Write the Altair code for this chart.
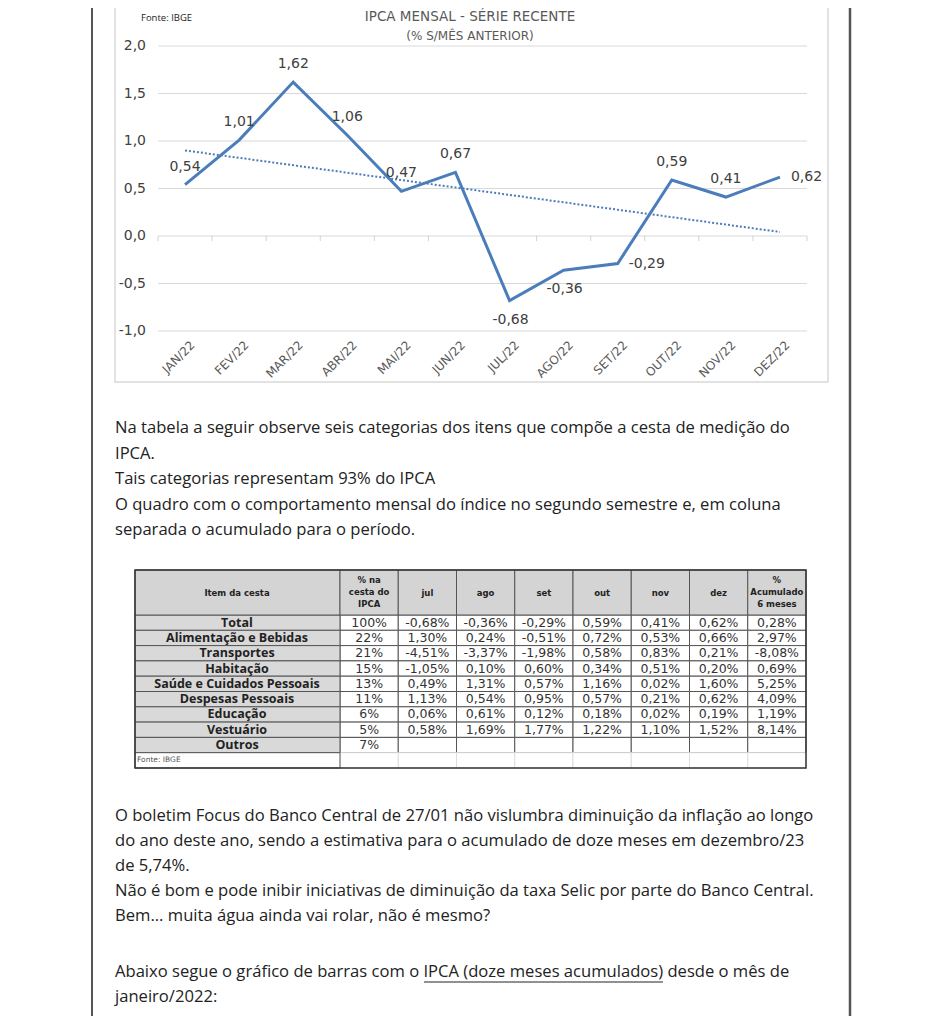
import altair as alt
import pandas as pd

# ---------------- data ----------------
meses = ["JAN/22", "FEV/22", "MAR/22", "ABR/22", "MAI/22", "JUN/22",
         "JUL/22", "AGO/22", "SET/22", "OUT/22", "NOV/22", "DEZ/22"]
ipca_mensal = [0.54, 1.01, 1.62, 1.06, 0.47, 0.67, -0.68, -0.36, -0.29, 0.59, 0.41, 0.62]
y_ticks = [-1.0, -0.5, 0.0, 0.5, 1.0, 1.5, 2.0]

itens = ["Total", "Alimentação e Bebidas", "Transportes", "Habitação",
         "Saúde e Cuidados Pessoais", "Despesas Pessoais", "Educação", "Vestuário", "Outros"]
peso_cesta = [100, 22, 21, 15, 13, 11, 6, 5, 7]
meses_tab = ["jul", "ago", "set", "out", "nov", "dez"]
var_jul = [-0.68, 1.30, -4.51, -1.05, 0.49, 1.13, 0.06, 0.58]
var_ago = [-0.36, 0.24, -3.37, 0.10, 1.31, 0.54, 0.61, 1.69]
var_set = [-0.29, -0.51, -1.98, 0.60, 0.57, 0.95, 0.12, 1.77]
var_out = [0.59, 0.72, 0.58, 0.34, 1.16, 0.57, 0.18, 1.22]
var_nov = [0.41, 0.53, 0.83, 0.51, 0.02, 0.21, 0.02, 1.10]
var_dez = [0.62, 0.66, 0.21, 0.20, 1.60, 0.62, 0.19, 1.52]
acum_6m = [0.28, 2.97, -8.08, 0.69, 5.25, 4.09, 1.19, 8.14]

cab_tabela = ["% na\ncesta do\nIPCA", "jul", "ago", "set", "out", "nov", "dez", "%\nAcumulado\n6 meses"]

texto_1 = ("Na tabela a seguir observe seis categorias dos itens que compõe a cesta de medição do\n"
           "IPCA.\n"
           "Tais categorias representam 93% do IPCA\n"
           "O quadro com o comportamento mensal do índice no segundo semestre e, em coluna\n"
           "separada o acumulado para o período.")
texto_2 = ("O boletim Focus do Banco Central de 27/01 não vislumbra diminuição da inflação ao longo\n"
           "do ano deste ano, sendo a estimativa para o acumulado de doze meses em dezembro/23\n"
           "de 5,74%.\n"
           "Não é bom e pode inibir iniciativas de diminuição da taxa Selic por parte do Banco Central.\n"
           "Bem... muita água ainda vai rolar, não é mesmo?")
texto_3 = ("Abaixo segue o gráfico de barras com o IPCA (doze meses acumulados) desde o mês de\n"
           "janeiro/2022:")


def br(v, d=2):
    return f"{v:.{d}f}".replace(".", ",")


BLUE = "#4a7dba"
GRAY_TXT = "#404040"
BODY = "#222222"
FONT = "DejaVu Sans"

# ---------------- line chart ----------------
df = pd.DataFrame({"i": list(range(len(meses))), "mes": meses, "v": ipca_mensal,
                   "rot": [br(v) for v in ipca_mensal]})
df_ticks = pd.DataFrame({"t": y_ticks, "lab": [br(t, 1) for t in y_ticks]})
df_bound = pd.DataFrame({"b": [k - 0.5 for k in range(len(meses) + 1)], "z": 0.0})

XS = alt.Scale(domain=[-0.5, len(meses) - 0.5], range=[158, 807], nice=False, zero=False)
YS = alt.Scale(domain=[-1, 2], range=[331, 46], nice=False, zero=False)

one = pd.DataFrame({"t": [""]})

box = alt.Chart(one).mark_rect(fill="white", stroke="#d9d9d9", strokeWidth=1.5).encode(
    x=alt.value(115), x2=alt.value(828), y=alt.value(-4), y2=alt.value(382))

grid = alt.Chart(df_ticks).mark_rule(color="#d9d9d9", strokeWidth=1).encode(
    y=alt.Y("t:Q", scale=YS, axis=None), x=alt.value(158), x2=alt.value(807))

ticks = alt.Chart(df_bound).mark_tick(orient="vertical", size=5, thickness=1,
                                      color="#bfbfbf", yOffset=2.5).encode(
    x=alt.X("b:Q", scale=XS, axis=None), y=alt.Y("z:Q", scale=YS, axis=None))

ylabs = alt.Chart(df_ticks).mark_text(align="right", baseline="middle", font=FONT,
                                      fontSize=14, color=GRAY_TXT).encode(
    y=alt.Y("t:Q", scale=YS, axis=None), x=alt.value(146), text="lab:N")

xlabs = alt.Chart(df).transform_calculate(ix="datum.i + 0.14").mark_text(
    angle=315, align="right", baseline="middle", font=FONT, fontSize=12, color="#595959").encode(
    x=alt.X("ix:Q", scale=XS, axis=None), y=alt.value(343), text="mes:N")

trend = alt.Chart(df).transform_regression("i", "v").mark_line(
    color=BLUE, strokeWidth=2, strokeDash=[2, 2]).encode(
    x=alt.X("i:Q", scale=XS, axis=None), y=alt.Y("v:Q", scale=YS, axis=None))

line = alt.Chart(df).mark_line(color=BLUE, strokeWidth=3).encode(
    x=alt.X("i:Q", scale=XS, axis=None), y=alt.Y("v:Q", scale=YS, axis=None))

below = ["JUL/22", "AGO/22"]
right = ["SET/22", "DEZ/22"]
lab_common = dict(font=FONT, fontSize=14, color=GRAY_TXT, baseline="middle")
enc = dict(x=alt.X("i:Q", scale=XS, axis=None), y=alt.Y("v:Q", scale=YS, axis=None), text="rot:N")

lab_above = alt.Chart(df).transform_filter(
    f"indexof({below + right}, datum.mes) < 0").mark_text(align="center", dy=-18, **lab_common).encode(**enc)
lab_below = alt.Chart(df).transform_filter(
    f"indexof({below}, datum.mes) >= 0").mark_text(align="center", dy=19, dx=1, **lab_common).encode(**enc)
lab_right = alt.Chart(df).transform_filter(
    f"indexof({right}, datum.mes) >= 0").mark_text(align="left", dx=11, **lab_common).encode(**enc)

title = alt.Chart(pd.DataFrame({"t": ["IPCA MENSAL - SÉRIE RECENTE"]})).mark_text(
    font=FONT, fontSize=13.5, color="#595959", align="center", baseline="middle").encode(
    x=alt.value(470), y=alt.value(17), text="t:N")
subtitle = alt.Chart(pd.DataFrame({"t": ["(% S/MÊS ANTERIOR)"]})).mark_text(
    font=FONT, fontSize=12, color="#595959", align="center", baseline="middle").encode(
    x=alt.value(470), y=alt.value(36), text="t:N")
fonte = alt.Chart(pd.DataFrame({"t": ["Fonte: IBGE"]})).mark_text(
    font="Open Sans", fontSize=9.5, color="#222", align="left", baseline="middle").encode(
    x=alt.value(141), y=alt.value(18), text="t:N")

chart_part = alt.layer(box, grid, ticks, ylabs, xlabs, trend, line,
                       lab_above, lab_below, lab_right, title, subtitle, fonte)

# ---------------- table ----------------
col_keys = ["pct"] + meses_tab + ["acum"]
row_keys = itens + ["Fonte"]
series = [var_jul, var_ago, var_set, var_out, var_nov, var_dez]
recs = []
for r_i, r in enumerate(row_keys):
    for c_i, c in enumerate(col_keys):
        txt = ""
        if r != "Fonte":
            if c == "pct":
                txt = f"{peso_cesta[r_i]}%"
            elif r_i < len(acum_6m):
                if c == "acum":
                    txt = br(acum_6m[r_i]) + "%"
                else:
                    txt = br(series[c_i - 1][r_i]) + "%"
        recs.append({"row": r, "col": c, "txt": txt, "fonte": r == "Fonte"})
df_cells = pd.DataFrame(recs)
df_items = pd.DataFrame({"row": row_keys, "nome": itens + [""], "fonte": [False] * len(itens) + [True]})
df_head = pd.DataFrame({"col": col_keys, "h": cab_tabela,
                        "multi": ["\n" in h for h in cab_tabela]})

XT = alt.Scale(domain=col_keys, range=[340, 806], paddingInner=0, paddingOuter=0)
YT = alt.Scale(domain=row_keys, range=[615, 768], paddingInner=0, paddingOuter=0)

cells = alt.Chart(df_cells).mark_rect(fill="white", strokeWidth=1).encode(
    x=alt.X("col:N", scale=XT, axis=None), y=alt.Y("row:N", scale=YT, axis=None),
    stroke=alt.condition("datum.fonte", alt.value("#dddddd"), alt.value("#555555")))
cell_txt = alt.Chart(df_cells).mark_text(font=FONT, fontSize=12.5, color="#333",
                                         baseline="middle", align="center").encode(
    x=alt.X("col:N", scale=XT, axis=None), y=alt.Y("row:N", scale=YT, axis=None), text="txt:N")

item_rect = alt.Chart(df_items).mark_rect(stroke="#555555", strokeWidth=1).encode(
    x=alt.value(135), x2=alt.value(340), y=alt.Y("row:N", scale=YT, axis=None),
    fill=alt.condition("datum.fonte", alt.value("white"), alt.value("#d9d9d9")))
item_txt = alt.Chart(df_items).mark_text(font="Open Sans", fontWeight="bold", fontSize=12.5,
                                         color="#222", baseline="middle", align="center").encode(
    x=alt.value(237), y=alt.Y("row:N", scale=YT, axis=None), text="nome:N")
fonte_tab = alt.Chart(pd.DataFrame({"t": ["Fonte: IBGE"]})).mark_text(
    font=FONT, fontSize=7.5, color="#555", align="left", baseline="middle").encode(
    x=alt.value(137), y=alt.value(760), text="t:N")

head_first = alt.Chart(one).mark_rect(fill="#d4d4d4", stroke="#555555", strokeWidth=1).encode(
    x=alt.value(135), x2=alt.value(340), y=alt.value(570), y2=alt.value(615))
head_first_txt = alt.Chart(pd.DataFrame({"t": ["Item da cesta"]})).mark_text(
    font=FONT, fontWeight="bold", fontSize=8.5, color="#222", align="center", baseline="middle").encode(
    x=alt.value(237), y=alt.value(593), text="t:N")
head_rect = alt.Chart(df_head).mark_rect(fill="#d4d4d4", stroke="#555555", strokeWidth=1).encode(
    x=alt.X("col:N", scale=XT, axis=None), y=alt.value(570), y2=alt.value(615))
head_style = dict(font=FONT, fontWeight="bold", fontSize=8.5, color="#222",
                  align="center", baseline="middle", lineBreak="\n", lineHeight=12)
head_single = alt.Chart(df_head).transform_filter("!datum.multi").mark_text(**head_style).encode(
    x=alt.X("col:N", scale=XT, axis=None), y=alt.value(593), text="h:N")
head_multi = alt.Chart(df_head).transform_filter("datum.multi").mark_text(**head_style).encode(
    x=alt.X("col:N", scale=XT, axis=None), y=alt.value(580), text="h:N")
outer = alt.Chart(one).mark_rect(fillOpacity=0, stroke="#333333", strokeWidth=1.5).encode(
    x=alt.value(135), x2=alt.value(806), y=alt.value(570), y2=alt.value(768))

table_part = alt.layer(cells, cell_txt, item_rect, item_txt, fonte_tab,
                       head_first, head_first_txt, head_rect, head_single, head_multi, outer)

# ---------------- page text ----------------
def para(t, y, lh):
    return alt.Chart(pd.DataFrame({"t": [t]})).mark_text(
        font="Open Sans", fontSize=16.6, color=BODY, align="left", baseline="middle",
        lineBreak="\n", lineHeight=lh).encode(x=alt.value(115), y=alt.value(y), text="t:N")


p1 = para(texto_1, 428, 25.5)
p2 = para(texto_2, 815.5, 25.2)
p3 = para(texto_3, 971.5, 25)
underline = alt.Chart(one).mark_rule(color=BODY, strokeWidth=1).encode(
    x=alt.value(424), x2=alt.value(663), y=alt.value(982))

border_l = alt.Chart(one).mark_rule(color="#555555", strokeWidth=2).encode(
    x=alt.value(92), y=alt.value(0), y2=alt.value(1024))
border_r = alt.Chart(one).mark_rule(color="#555555", strokeWidth=2.5).encode(
    x=alt.value(850), y=alt.value(0), y2=alt.value(1024))

chart = alt.layer(border_l, border_r, chart_part, p1, table_part, p2, p3, underline).resolve_scale(
    x="independent", y="independent").properties(
    width=944, height=1024,
    autosize=alt.AutoSizeParams(type="none"),
    padding={"left": -8, "top": -8, "right": -8, "bottom": -8},
    background="white",
).configure_view(stroke=None)

chart.save("out.html", embed_options={"renderer": "svg", "actions": False})
